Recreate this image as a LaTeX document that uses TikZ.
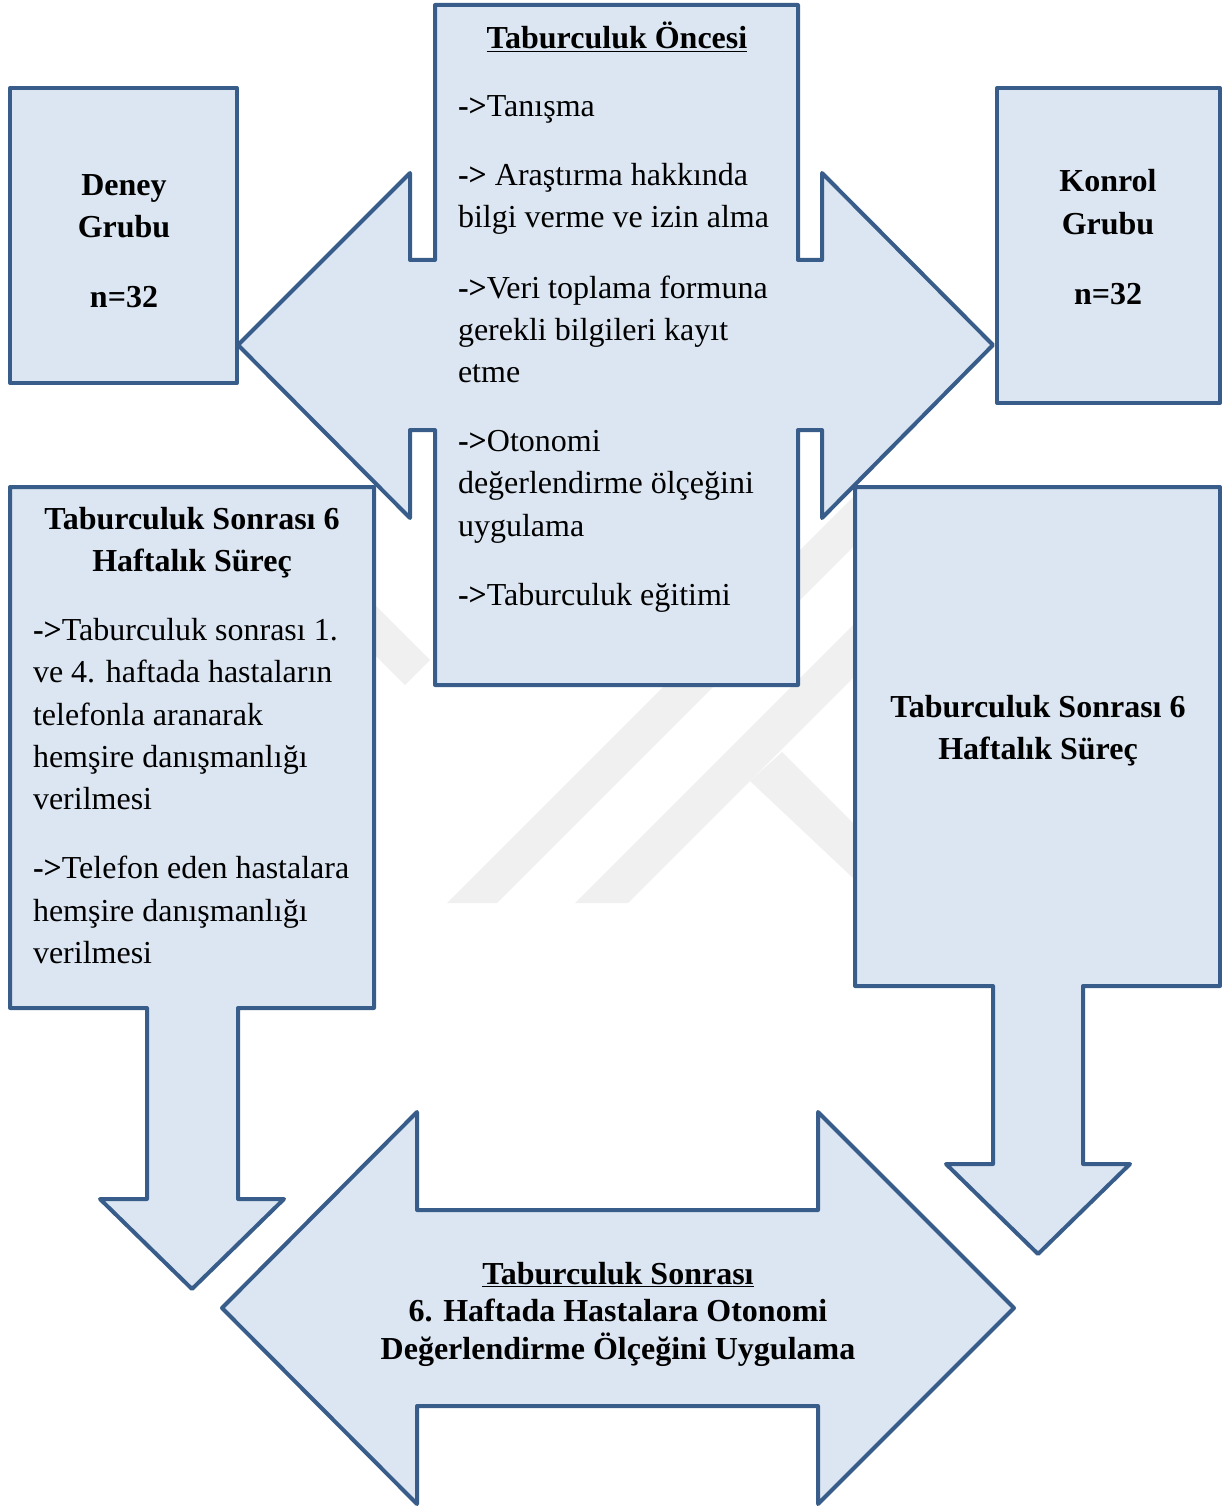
\documentclass[tikz,border=0pt]{standalone}
\usepackage{fontspec}
\setmainfont{Liberation Serif}
\definecolor{boxfill}{RGB}{220,230,242}
\definecolor{boxline}{RGB}{56,93,138}
\definecolor{wm}{RGB}{240,240,240}
\tikzset{
  shapeline/.style={draw=boxline, fill=boxfill, line width=4pt, line join=round},
  txt/.style={inner sep=0pt, outer sep=0pt, font=\fontsize{32}{42.5}\selectfont, text=black},
  btxt/.style={txt, font=\fontsize{32}{42.5}\selectfont\bfseries},
  wmband/.style={fill=wm, draw=none}
}
\newcommand{\arr}{\textbf{->}}
\begin{document}
\begin{tikzpicture}[x=1pt,y=-1pt]
\useasboundingbox (0,0) rectangle (1222,1506);
% faint watermark bands
\fill[wmband] (447,903) -- (497,903) -- (855,545) -- (855,495) -- cycle;
\fill[wmband] (575,903) -- (628,903) -- (855,676) -- (855,623) -- cycle;
\fill[wmband] (750,781) -- (782,752) -- (855,825) -- (855,880) -- cycle;
\fill[wmband] (375,605) -- (430,660) -- (405,685) -- (375,655) -- cycle;
% central box with double arrow
\draw[shapeline] (435,5) -- (798,5) -- (798,260) -- (822,260) -- (822,173) -- (993,345)
  -- (822,518) -- (822,430) -- (798,430) -- (798,685) -- (435,685) -- (435,430)
  -- (410,430) -- (410,518) -- (238,345) -- (410,173) -- (410,260) -- (435,260) -- cycle;
% side boxes
\draw[shapeline] (10,88) rectangle (237,383);
\draw[shapeline] (997,88) rectangle (1220,403);
% left lower box with down arrow
\draw[shapeline] (10,487) -- (374,487) -- (374,1008) -- (238,1008) -- (238,1199) -- (284,1199)
  -- (192,1289) -- (100,1199) -- (147,1199) -- (147,1008) -- (10,1008) -- cycle;
% right lower box with down arrow
\draw[shapeline] (855,487) -- (1220,487) -- (1220,986) -- (1083,986) -- (1083,1164) -- (1130,1164)
  -- (1038,1254) -- (946,1164) -- (993,1164) -- (993,986) -- (855,986) -- cycle;
% bottom double arrow
\draw[shapeline] (222,1308) -- (417,1112) -- (417,1210) -- (818,1210) -- (818,1112) -- (1014,1308)
  -- (818,1504) -- (818,1406) -- (417,1406) -- (417,1504) -- cycle;

% texts: central box
\node[btxt, anchor=base] (t0) at (617,49) {\underline{Taburculuk Öncesi}};
\node[txt, anchor=base west] (t1) at (458,117) {\arr Tanışma};
\node[txt, anchor=base west] (t2) at (458,186) {\arr{} Araştırma hakkında};
\node[txt, anchor=base west] (t3) at (458,228) {bilgi verme ve izin alma};
\node[txt, anchor=base west] (t4) at (458,298) {\arr Veri toplama formuna};
\node[txt, anchor=base west] (t5) at (458,340) {gerekli bilgileri kayıt};
\node[txt, anchor=base west] (t6) at (458,382) {etme};
\node[txt, anchor=base west] (t7) at (458,451) {\arr Otonomi};
\node[txt, anchor=base west] (t8) at (458,493) {değerlendirme ölçeğini};
\node[txt, anchor=base west] (t9) at (458,536) {uygulama};
\node[txt, anchor=base west] (t10) at (458,605) {\arr Taburculuk eğitimi};

% Deney / Konrol
\node[btxt, anchor=base] (d1) at (124,196) {Deney};
\node[btxt, anchor=base] (d2) at (124,238) {Grubu};
\node[btxt, anchor=base] (d3) at (124,307) {n=32};
\node[btxt, anchor=base] (k1) at (1108,192) {Konrol};
\node[btxt, anchor=base] (k2) at (1108,235) {Grubu};
\node[btxt, anchor=base] (k3) at (1108,304) {n=32};

% left lower box
\node[btxt, anchor=base] (l0) at (192,529) {Taburculuk Sonrası 6};
\node[btxt, anchor=base] (l1) at (192,571) {Haftalık Süreç};
\node[txt, anchor=base west] (l2) at (33,640) {\arr Taburculuk sonrası 1.};
\node[txt, anchor=base west] (l3) at (33,682) {ve 4. haftada hastaların};
\node[txt, anchor=base west] (l4) at (33,725) {telefonla aranarak};
\node[txt, anchor=base west] (l5) at (33,767) {hemşire danışmanlığı};
\node[txt, anchor=base west] (l6) at (33,809) {verilmesi};
\node[txt, anchor=base west] (l7) at (33,878) {\arr Telefon eden hastalara};
\node[txt, anchor=base west] (l8) at (33,921) {hemşire danışmanlığı};
\node[txt, anchor=base west] (l9) at (33,963) {verilmesi};

% right lower box
\node[btxt, anchor=base] (r0) at (1038,717) {Taburculuk Sonrası 6};
\node[btxt, anchor=base] (r1) at (1038,759) {Haftalık Süreç};

% bottom arrow text
\node[btxt, anchor=base] (b0) at (618,1284) {\underline{Taburculuk Sonrası}};
\node[btxt, anchor=base] (b1) at (618,1321) {6. Haftada Hastalara Otonomi};
\node[btxt, anchor=base] (b2) at (618,1359) {Değerlendirme Ölçeğini Uygulama};
\end{tikzpicture}
\end{document}
